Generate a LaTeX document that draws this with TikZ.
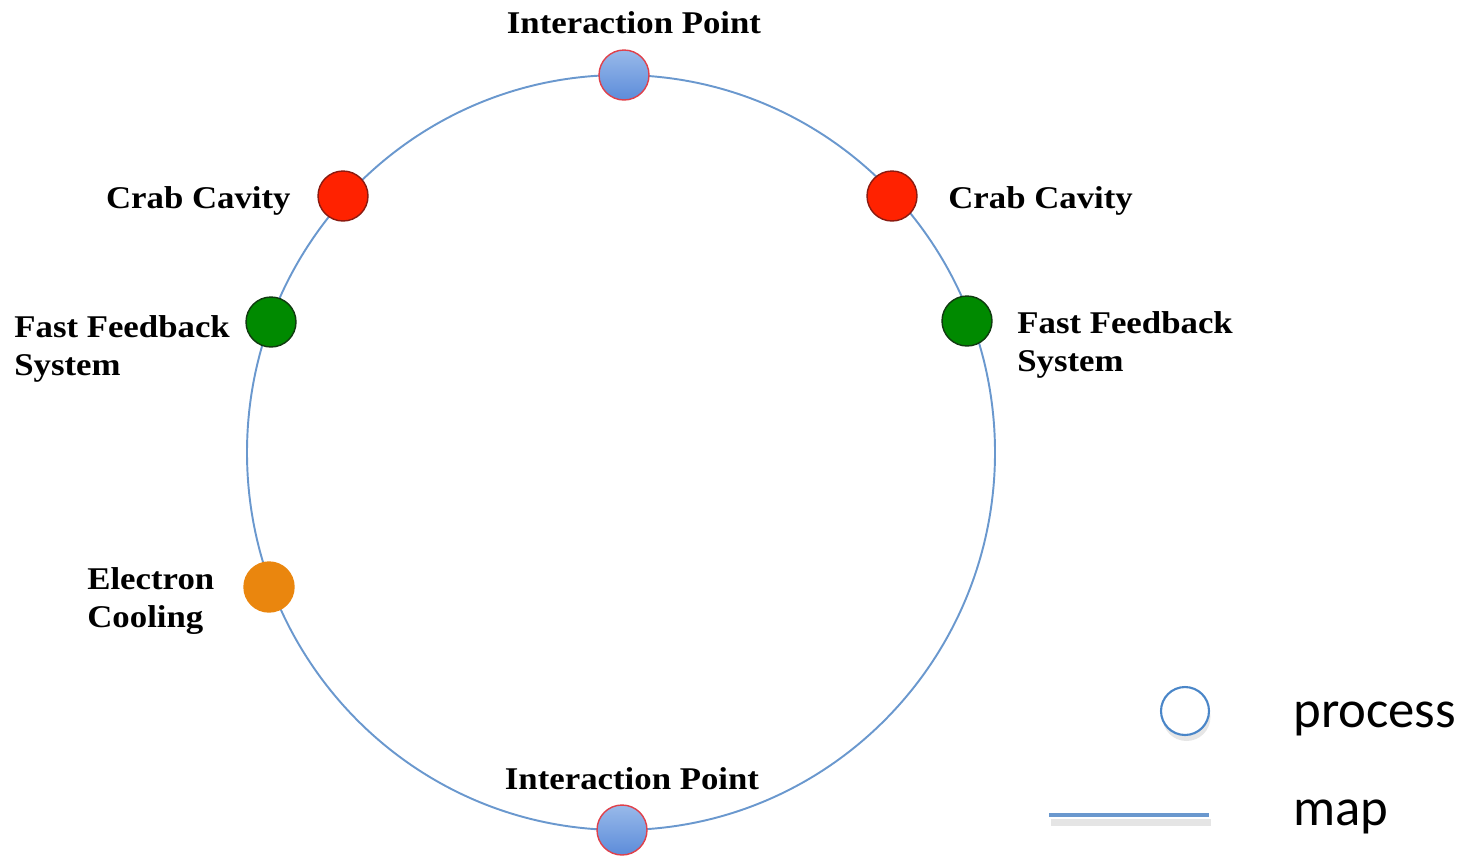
\documentclass[tikz,border=0pt]{standalone}
\usepackage{fontspec}
\setmainfont{Liberation Serif}[FakeStretch=1.1]
\newfontfamily\legendfont{Carlito}
\usepackage{tikz}
\usetikzlibrary{shapes}
\usetikzlibrary{shadows}
\usetikzlibrary{positioning}
\usetikzlibrary{calc}
\definecolor{mapline}{HTML}{6A98CE}
\definecolor{ipfill}{HTML}{7FA8E4}
\definecolor{ipdark}{HTML}{5C8CDA}
\definecolor{ipedge}{HTML}{E0404A}
\definecolor{crabfill}{HTML}{FF2200}
\definecolor{crabedge}{HTML}{8A1A10}
\definecolor{ffbfill}{HTML}{008A00}
\definecolor{ffbedge}{HTML}{103A10}
\definecolor{coolfill}{HTML}{EA860E}
\definecolor{legedge}{HTML}{4A86C8}

\begin{document}
\begin{tikzpicture}[
  x=0.02cm, y=-0.02cm,
  map/.style={
    draw=mapline, line width=1.1pt
  },
  stn/.style 2 args={
    circle,
    minimum size=1cm,
    inner sep=0pt,
    draw=#2,
    line width=0.8pt,
    fill=#1},
  ipstn/.style={
    circle,
    minimum size=1cm,
    inner sep=0pt,
    draw=ipedge,
    line width=0.8pt,
    top color=ipfill!80!white,
    bottom color=ipdark},
  lbl/.style={
    font=\bfseries\fontsize{18}{21.5}\selectfont,
    align=left,
    inner sep=0pt},
  leg/.style={
    font=\legendfont\fontsize{30}{34}\selectfont,
    anchor=west,
    inner sep=0pt},
]

  \useasboundingbox (0,0) rectangle (1473,856);

  % ring
  \coordinate (ring) at (621,452.5);
  \draw[map] (ring) ellipse [x radius=374, y radius=377.5];

  % stations on the ring
  \node[ipstn] (ip_top) at (624,75) {};
  \node[ipstn] (ip_bot) at (622,830) {};
  \node[stn={crabfill}{crabedge}] (crab_l) at (343,196) {};
  \node[stn={crabfill}{crabedge}] (crab_r) at (892,196) {};
  \node[stn={ffbfill}{ffbedge}] (ffb_l) at (271,322) {};
  \node[stn={ffbfill}{ffbedge}] (ffb_r) at (967,321) {};
  \node[stn={coolfill}{coolfill}] (cool) at (269,587) {};

  % labels
  \node[lbl] (ip_top_l) at (634,23) {Interaction Point};
  \node[lbl] (ip_bot_l) at (632,779) {Interaction Point};
  \node[lbl,anchor=east] (crab_l_l) at (291,201) {Crab Cavity};
  \node[lbl,anchor=west] (crab_r_l) at (948,201) {Crab Cavity};
  \node[lbl,anchor=west] (ffb_l_l) at (14,349) {Fast Feedback\\System};
  \node[lbl,anchor=west] (ffb_r_l) at (1017,345) {Fast Feedback\\System};
  \node[lbl,anchor=west] (cool_l) at (87,601) {Electron\\Cooling};

  % legend
  \node[circle, minimum size=0.96cm, inner sep=0pt, draw=legedge,
    line width=1.2pt, fill=white,
    drop shadow={opacity=0.2, shadow xshift=0.3mm, shadow yshift=-1.2mm}]
    (leg_proc) at (1185,711) {};
  \node[leg] (leg_proc_l) at (1293,719) {process};
  \coordinate (leg_map_a) at (1049,815);
  \coordinate (leg_map_b) at (1209,815);
  \draw[draw=black!20, line width=4pt, opacity=0.5]
    ($(leg_map_a)+(2,7)$) -- ($(leg_map_b)+(2,7)$);
  \draw[draw=mapline, line width=2.2pt] (leg_map_a) -- (leg_map_b);
  \node[leg] (leg_map_l) at (1293,817) {map};

\end{tikzpicture}
\end{document}
